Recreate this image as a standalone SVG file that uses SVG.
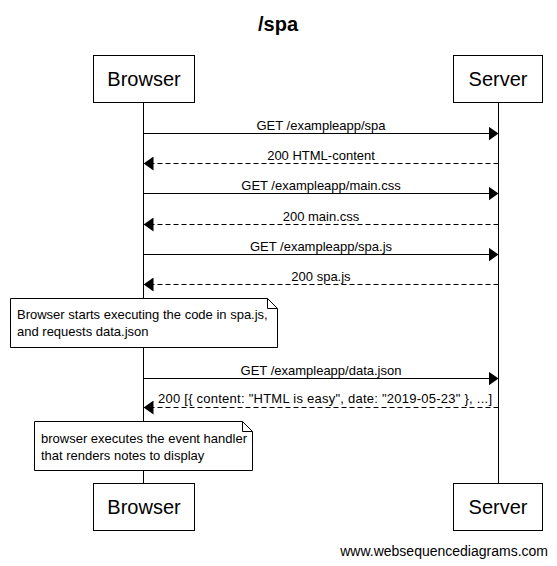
<svg xmlns="http://www.w3.org/2000/svg" width="557" height="566" viewBox="0 0 557 566">
<style>
text{font-family:"Liberation Sans",Arial,sans-serif;fill:#000}
.title{font-size:20px;font-weight:bold;text-anchor:middle}
.actor rect{fill:#fff;stroke:#000;stroke-width:1}
.actor text{font-size:20px;text-anchor:middle}
.life{stroke:#000;stroke-width:1}
.msg{stroke:#000;stroke-width:1;fill:none}
.dash{stroke-dasharray:5,3}
.lbl{font-size:13px;text-anchor:middle}
.note path.body{fill:#fff;stroke:#000;stroke-width:1}
.note path.fold{fill:none;stroke:#000;stroke-width:1}
.note text{font-size:13px}
.foot{font-size:14px;text-anchor:end}
</style>
<defs>
<marker id="ah" viewBox="0 0 10 14" refX="10" refY="7" markerWidth="10" markerHeight="14" markerUnits="userSpaceOnUse" orient="auto">
<path d="M0,0 L10,7 L0,14 Z" fill="#000"/>
</marker>
</defs>
<rect width="557" height="566" fill="#fff"/>
<text class="title" x="278" y="31">/spa</text>
<g id="lifelines">
<line class="life" x1="143.5" y1="102" x2="143.5" y2="483"/>
<line class="life" x1="498.5" y1="102" x2="498.5" y2="483"/>
</g>
<g id="actor-browser-top" class="actor"><rect x="93.5" y="55.5" width="101" height="47"/><text x="144" y="86">Browser</text></g>
<g id="actor-server-top" class="actor"><rect x="453.5" y="55.5" width="89" height="47"/><text x="498" y="86">Server</text></g>
<g id="connectors">
<line class="msg" x1="143.5" y1="133.5" x2="498.5" y2="133.5" marker-end="url(#ah)"/>
<text class="lbl" x="321" y="129.5">GET /exampleapp/spa</text>
<line class="msg dash" x1="498.5" y1="163.5" x2="143.5" y2="163.5" marker-end="url(#ah)"/>
<text class="lbl" x="321" y="159.5">200 HTML-content</text>
<line class="msg" x1="143.5" y1="193.5" x2="498.5" y2="193.5" marker-end="url(#ah)"/>
<text class="lbl" x="321" y="189.5">GET /exampleapp/main.css</text>
<line class="msg dash" x1="498.5" y1="224.5" x2="143.5" y2="224.5" marker-end="url(#ah)"/>
<text class="lbl" x="321" y="220.5">200 main.css</text>
<line class="msg" x1="143.5" y1="254.5" x2="498.5" y2="254.5" marker-end="url(#ah)"/>
<text class="lbl" x="321" y="250.5">GET /exampleapp/spa.js</text>
<line class="msg dash" x1="498.5" y1="284.5" x2="143.5" y2="284.5" marker-end="url(#ah)"/>
<text class="lbl" x="321" y="280.5">200 spa.js</text>
<line class="msg" x1="143.5" y1="378.5" x2="498.5" y2="378.5" marker-end="url(#ah)"/>
<text class="lbl" x="321" y="374.5">GET /exampleapp/data.json</text>
<line class="msg dash" x1="498.5" y1="407.5" x2="143.5" y2="407.5" marker-end="url(#ah)"/>
<text class="lbl" x="158" y="403" style="text-anchor:start" textLength="334" lengthAdjust="spacing">200 [{ content: "HTML is easy", date: "2019-05-23" }, ...]</text>
</g>
<g id="note-1" class="note">
<path class="body" d="M10.5,298.5 H267.5 L277.5,308.5 V347.5 H10.5 Z"/>
<path class="fold" d="M267.5,298.5 V308.5 H277.5"/>
<text x="17" y="319">Browser starts executing the code in spa.js,</text>
<text x="17" y="336">and requests data.json</text>
</g>
<g id="note-2" class="note">
<path class="body" d="M34.5,421.5 H242.5 L252.5,431.5 V470.5 H34.5 Z"/>
<path class="fold" d="M242.5,421.5 V431.5 H252.5"/>
<text x="41" y="443">browser executes the event handler</text>
<text x="41" y="460">that renders notes to display</text>
</g>
<g id="actor-browser-bottom" class="actor"><rect x="93.5" y="483.5" width="101" height="47"/><text x="144" y="514">Browser</text></g>
<g id="actor-server-bottom" class="actor"><rect x="453.5" y="483.5" width="89" height="47"/><text x="498" y="514">Server</text></g>
<text class="foot" x="548" y="556">www.websequencediagrams.com</text>
</svg>
